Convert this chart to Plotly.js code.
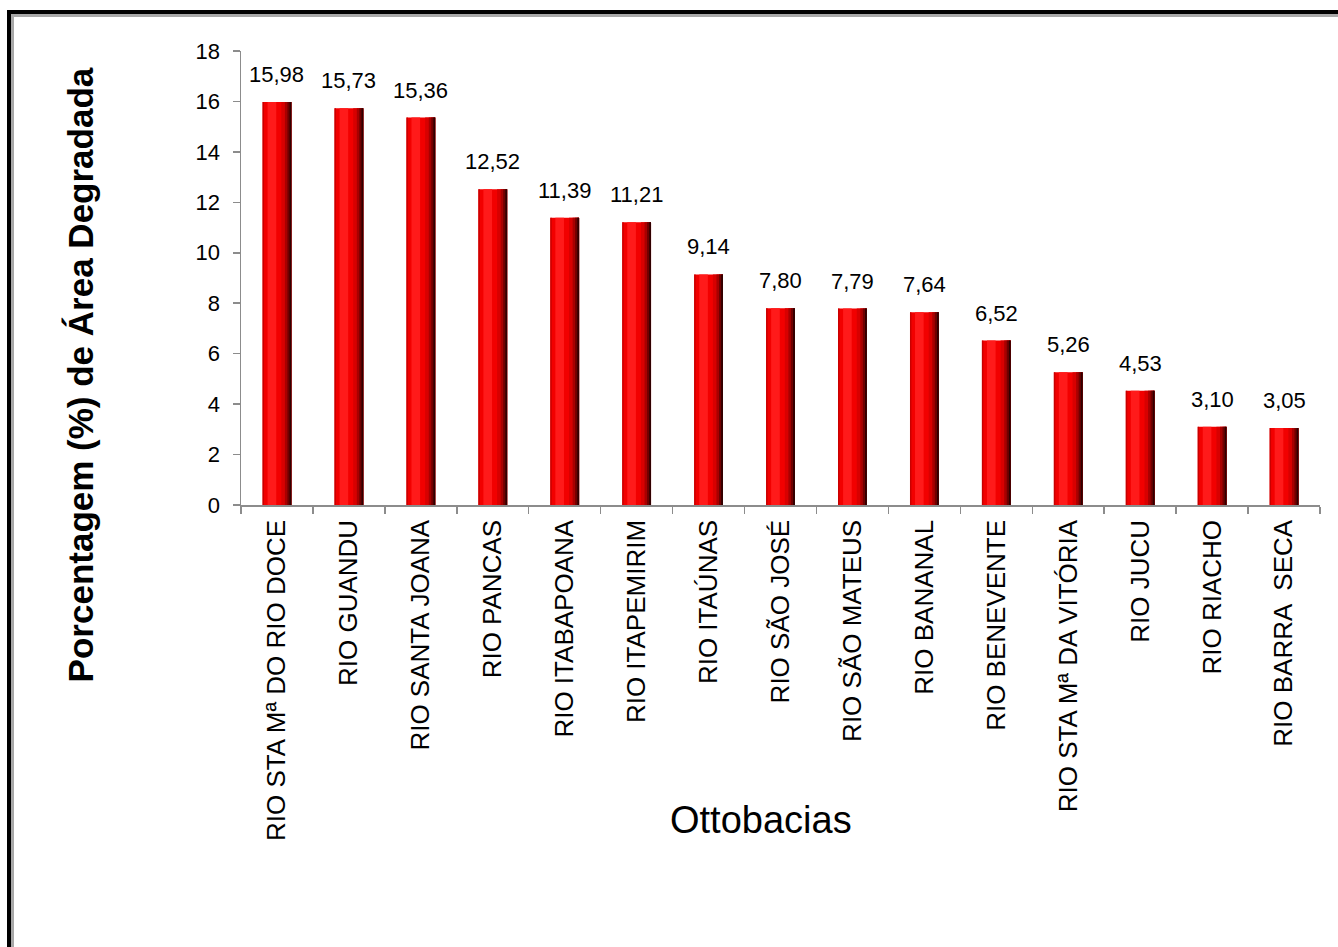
<!DOCTYPE html>
<html>
<head>
<meta charset="utf-8">
<script src="https://cdn.plot.ly/plotly-3.0.1.min.js"></script>
<style>
  html, body { margin: 0; padding: 0; background: #fff; overflow: hidden; }
  #chart { width: 1338px; height: 947px; }
  #frame1 { position: absolute; left: 7px; top: 10px; width: 1400px; height: 1000px;
            border-left: 4px solid #000; border-top: 4px solid #000; pointer-events: none; }
  #frame2 { position: absolute; left: 11px; top: 14px; width: 1400px; height: 1000px;
            border-left: 3px solid #a8a8a8; border-top: 3px solid #a8a8a8; pointer-events: none; }
</style>
</head>
<body>
<div id="chart"></div>
<div id="frame1"></div>
<div id="frame2"></div>
<script>
const categories = [
  "RIO STA Mª DO RIO DOCE", "RIO GUANDU", "RIO SANTA JOANA", "RIO PANCAS",
  "RIO ITABAPOANA", "RIO ITAPEMIRIM", "RIO ITAÚNAS", "RIO SÃO JOSÉ",
  "RIO SÃO MATEUS", "RIO BANANAL", "RIO BENEVENTE", "RIO STA Mª DA VITÓRIA",
  "RIO JUCU", "RIO RIACHO", "RIO BARRA  SECA"
];
const values = [15.98, 15.73, 15.36, 12.52, 11.39, 11.21, 9.14, 7.80, 7.79, 7.64, 6.52, 5.26, 4.53, 3.10, 3.05];
const valueLabels = values.map(v => v.toFixed(2).replace('.', ','));
const yTicks = [0, 2, 4, 6, 8, 10, 12, 14, 16, 18];

// cylinder-like shading strips: [offset, width, color]
const strips = [
  [-0.20, 0.40, '#f20000'],
  [-0.20, 0.02, '#c80000'],
  [-0.13, 0.12, '#ff1a1a'],
  [0.06, 0.14, '#d80000'],
  [0.11, 0.09, '#a80000'],
  [0.145, 0.055, '#700000'],
  [0.175, 0.025, '#300000']
];

const traces = strips.map(s => ({
  type: 'bar',
  x: categories,
  y: values,
  width: s[1],
  offset: s[0],
  marker: { color: s[2], line: { width: 0 } },
  hoverinfo: 'skip',
  showlegend: false
}));

const FONT = 'Arial, Liberation Sans, sans-serif';

const annotations = categories.map((c, i) => ({
  x: c, y: values[i], xref: 'x', yref: 'y',
  text: valueLabels[i], showarrow: false,
  yanchor: 'bottom', yshift: 13,
  font: { family: FONT, size: 22, color: '#000' }
}));

annotations.push({
  xref: 'paper', yref: 'paper', x: 0.482, y: -0.693,
  text: 'Ottobacias', showarrow: false, xanchor: 'center', yanchor: 'middle',
  font: { family: FONT, size: 38, color: '#000' }
});
annotations.push({
  xref: 'paper', yref: 'paper', x: -0.149, y: 0.286,
  text: '<b>Porcentagem (%) de Área Degradada</b>', showarrow: false, textangle: -90,
  xanchor: 'center', yanchor: 'middle',
  font: { family: FONT, size: 35, color: '#000' }
});

const layout = {
  width: 1338, height: 947,
  paper_bgcolor: '#fff', plot_bgcolor: '#fff',
  margin: { l: 241, r: 18, t: 50.5, b: 442, pad: 0 },
  barmode: 'overlay',
  showlegend: false,
  xaxis: {
    type: 'category',
    showline: true, linecolor: '#8c8c8c', linewidth: 1.5,
    ticks: 'outside', tickson: 'boundaries', ticklen: 7, tickcolor: '#8c8c8c', tickwidth: 1.5,
    tickangle: -90, ticklabelstandoff: 3,
    tickfont: { family: FONT, size: 26, color: '#000' },
    showgrid: false, zeroline: false, fixedrange: true
  },
  yaxis: {
    range: [0, 18],
    tickvals: yTicks, ticktext: yTicks.map(String),
    showline: true, linecolor: '#8c8c8c', linewidth: 1.5,
    ticks: 'outside', ticklen: 7, tickcolor: '#8c8c8c', tickwidth: 1.5,
    ticklabelstandoff: 8,
    tickfont: { family: FONT, size: 22, color: '#000' },
    showgrid: false, zeroline: false, fixedrange: true
  },
  annotations: annotations
};

Plotly.newPlot('chart', traces, layout, { displayModeBar: false, staticPlot: true });
</script>
</body>
</html>
